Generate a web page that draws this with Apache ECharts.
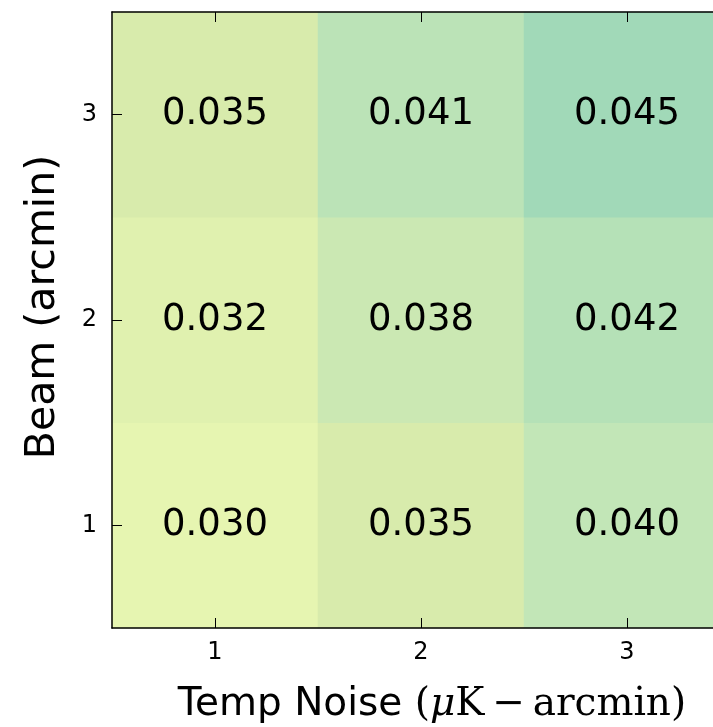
<!DOCTYPE html>
<html>
<head>
<meta charset="utf-8">
<script src="https://cdn.jsdelivr.net/npm/echarts@6/dist/echarts.min.js"></script>
<style>
  html, body { margin: 0; padding: 0; background: #ffffff; }
  #chart { width: 713px; height: 727px; }
</style>
</head>
<body>
<div id="chart"></div>
<script>
// Temperature noise levels (columns) and beam sizes (rows)
var noiseLevels = ['1', '2', '3'];
var beamSizes = ['1', '2', '3'];

// Values per beam row, one entry per noise level
var beamRow1 = [0.030, 0.035, 0.040];
var beamRow2 = [0.032, 0.038, 0.042];
var beamRow3 = [0.035, 0.041, 0.045];

var rows = [beamRow1, beamRow2, beamRow3];
var cells = [];
rows.forEach(function (row, yi) {
  row.forEach(function (v, xi) {
    cells.push([xi, yi, v]);
  });
});

var sansFont = 'DejaVu Sans';
var serifFont = 'DejaVu Serif';

var tickStyle = { show: true, inside: true, length: 10, alignWithLabel: true, lineStyle: { color: '#000', width: 1 } };
var lineStyle = { show: true, lineStyle: { color: '#000', width: 1.5 } };

var chart = echarts.init(document.getElementById('chart'), null, { renderer: 'canvas' });

chart.setOption({
  animation: false,
  backgroundColor: '#ffffff',
  grid: { left: 112, top: 12, width: 618, height: 616, containLabel: false, outerBoundsMode: 'none' },
  xAxis: [
    {
      type: 'category',
      data: noiseLevels,
      position: 'bottom',
      z: 10,
      splitArea: { show: false },
      axisLine: lineStyle,
      axisTick: tickStyle,
      axisLabel: { color: '#000', fontFamily: sansFont, fontSize: 24, margin: 13 },
      name: '{a|Temp Noise }{b|(}{c|μ}{b|K\u2009−\u2009arcmin)}',
      nameLocation: 'middle',
      nameGap: 57,
      nameTextStyle: {
        padding: [0, 0, 0, 22],
        rich: {
          a: { fontFamily: sansFont, fontSize: 39, color: '#000' },
          b: { fontFamily: serifFont, fontSize: 39, color: '#000' },
          c: { fontFamily: serifFont, fontSize: 39, fontStyle: 'italic', color: '#000' }
        }
      }
    },
    {
      type: 'category',
      data: noiseLevels,
      position: 'top',
      z: 10,
      axisLine: lineStyle,
      axisTick: tickStyle,
      axisLabel: { show: false }
    }
  ],
  yAxis: [
    {
      type: 'category',
      data: beamSizes,
      position: 'left',
      z: 10,
      axisLine: lineStyle,
      axisTick: tickStyle,
      axisLabel: { color: '#000', fontFamily: sansFont, fontSize: 24, margin: 15 },
      name: 'Beam (arcmin)',
      nameLocation: 'middle',
      nameGap: 48,
      nameTextStyle: { fontFamily: sansFont, fontSize: 41, color: '#000', padding: [0, 0, 0, 26] }
    },
    {
      type: 'category',
      data: beamSizes,
      position: 'right',
      z: 10,
      axisLine: lineStyle,
      axisTick: tickStyle,
      axisLabel: { show: false }
    }
  ],
  visualMap: {
    show: false,
    type: 'continuous',
    min: 0.030,
    max: 0.045,
    dimension: 2,
    inRange: { color: ['#e6f5b1', '#d8ebac', '#c2e6b7', '#a1d9b8'] }
  },
  series: [{
    type: 'heatmap',
    xAxisIndex: 0,
    yAxisIndex: 0,
    data: cells,
    itemStyle: { borderWidth: 0 },
    label: {
      show: true,
      color: '#000',
      fontFamily: sansFont,
      fontSize: 37,
      formatter: function (p) { return p.value[2].toFixed(3); }
    },
    emphasis: { disabled: true }
  }]
});
</script>
</body>
</html>
